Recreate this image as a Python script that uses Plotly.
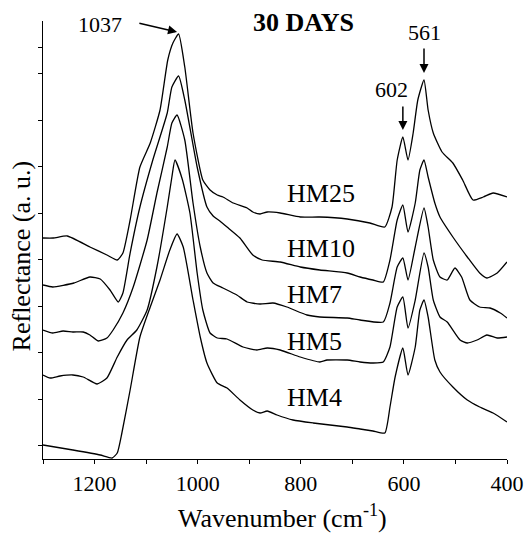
import plotly.graph_objects as go

# ---- data (wavenumber in cm^-1, reflectance in arbitrary units) ----
hm25_wn = [1300, 1280, 1253, 1209, 1176, 1156, 1145, 1131, 1112, 1092, 1073, 1058, 1048, 1037, 1025, 1009, 990, 976, 962, 951, 931, 904, 893, 879, 865, 840, 801, 763, 710, 666, 637, 623, 613, 602, 592, 582, 573, 561, 553, 543, 526, 505, 486, 466, 446, 427, 400]
hm25_r = [221, 221, 223, 212, 204, 199, 206, 239, 292, 316, 349, 399, 416, 425, 392, 326, 279, 269, 264, 262, 256, 251, 247, 245, 247, 246, 242, 242, 240, 236, 232, 252, 299, 322, 299, 326, 359, 379, 349, 326, 307, 296, 279, 259, 262, 266, 262]

hm10_wn = [1300, 1281, 1240, 1209, 1189, 1170, 1154, 1145, 1131, 1112, 1087, 1059, 1050, 1037, 1025, 1001, 982, 970, 957, 943, 918, 893, 875, 840, 801, 763, 710, 685, 660, 640, 627, 613, 602, 592, 578, 569, 561, 553, 540, 530, 505, 477, 453, 439, 419, 400]
hm10_r = [174, 172, 176, 182, 180, 169, 157, 166, 206, 252, 299, 346, 372, 383, 359, 292, 252, 243, 238, 232, 221, 204, 199, 197, 192, 189, 186, 182, 179, 177, 199, 239, 254, 227, 256, 289, 299, 282, 256, 242, 222, 202, 186, 181, 186, 197]

hm7_wn = [1300, 1281, 1261, 1242, 1222, 1209, 1193, 1176, 1164, 1145, 1125, 1098, 1079, 1059, 1050, 1040, 1025, 1009, 995, 982, 970, 951, 924, 904, 879, 854, 827, 788, 763, 710, 685, 640, 627, 613, 602, 592, 578, 561, 553, 543, 530, 516, 501, 488, 472, 453, 433, 413, 400]
hm7_r = [129, 126, 128, 127, 127, 124, 118, 121, 129, 146, 172, 219, 266, 312, 336, 344, 319, 256, 212, 186, 176, 171, 164, 157, 155, 156, 152, 144, 142, 141, 139, 137, 156, 192, 201, 179, 212, 251, 232, 199, 182, 179, 191, 182, 159, 152, 151, 146, 141]

hm5_wn = [1300, 1286, 1267, 1242, 1222, 1195, 1176, 1156, 1137, 1118, 1098, 1079, 1059, 1050, 1044, 1030, 1015, 1001, 990, 976, 962, 943, 912, 885, 865, 840, 801, 763, 749, 710, 685, 660, 640, 627, 613, 602, 592, 578, 561, 553, 543, 530, 516, 491, 477, 458, 439, 419, 400]
hm5_r = [84, 81, 83, 84, 82, 75, 81, 102, 119, 129, 149, 192, 252, 282, 299, 280, 246, 186, 149, 126, 121, 120, 112, 109, 111, 109, 102, 97, 99, 99, 97, 96, 97, 112, 152, 162, 131, 159, 206, 192, 159, 142, 137, 119, 116, 119, 124, 121, 122]

hm4_wn = [1300, 1242, 1189, 1166, 1156, 1147, 1131, 1112, 1092, 1073, 1054, 1040, 1028, 1009, 995, 982, 962, 943, 918, 893, 879, 865, 846, 815, 776, 710, 685, 660, 637, 627, 617, 602, 592, 578, 569, 561, 553, 540, 530, 505, 477, 453, 427, 400]
hm4_r = [14, 9, 4, 1, 6, 26, 69, 122, 152, 179, 209, 225, 212, 159, 122, 96, 76, 71, 59, 49, 46, 48, 44, 39, 36, 32, 30, 28, 26, 52, 82, 111, 84, 112, 149, 159, 142, 99, 87, 72, 59, 52, 46, 37]

series_names = ["HM25", "HM10", "HM7", "HM5", "HM4"]
label_y = [266, 211, 165, 118, 62]

x_tickvals = [1300, 1200, 1100, 1000, 900, 800, 700, 600, 500, 400]
x_ticktext = [" ", "1200", " ", "1000", " ", "800", " ", "600", " ", "400"]
y_tickvals = [14, 60, 107, 153, 200, 246, 293, 339, 386, 412]

FONT = "Liberation Serif, Times New Roman, serif"

fig = go.Figure()
for wn, r, name in [(hm25_wn, hm25_r, "HM25"), (hm10_wn, hm10_r, "HM10"),
                    (hm7_wn, hm7_r, "HM7"), (hm5_wn, hm5_r, "HM5"),
                    (hm4_wn, hm4_r, "HM4")]:
    fig.add_trace(go.Scatter(x=wn, y=r, mode="lines", name=name,
                             line=dict(color="black", width=1.3, shape="spline", smoothing=0.5),
                             showlegend=False, hoverinfo="x+y+name"))

annotations = []
for name, ly in zip(series_names, label_y):
    annotations.append(dict(x=830, y=ly, xref="x", yref="y", text=name, showarrow=False,
                            xanchor="left", yanchor="middle", font=dict(family=FONT, size=26, color="black")))

# peak markers
peak25 = max(hm25_r)
r561 = hm25_r[hm25_wn.index(561)]
r602 = hm25_r[hm25_wn.index(602)]
annotations += [
    dict(x=1040, y=peak25 + 2, ax=1116, ay=436, xref="x", yref="y", axref="x", ayref="y",
         text="", showarrow=True, arrowhead=2, arrowsize=1.2, arrowwidth=1.5, arrowcolor="black"),
    dict(x=1189, y=435, xref="x", yref="y", text="1037", showarrow=False,
         font=dict(family=FONT, size=22, color="black")),
    dict(x=561, y=r561 + 7, ax=561, ay=412, xref="x", yref="y", axref="x", ayref="y",
         text="", showarrow=True, arrowhead=2, arrowsize=1.2, arrowwidth=1.5, arrowcolor="black"),
    dict(x=561, y=427, xref="x", yref="y", text="561", showarrow=False,
         font=dict(family=FONT, size=22, color="black")),
    dict(x=602, y=r602 + 7, ax=602, ay=354, xref="x", yref="y", axref="x", ayref="y",
         text="", showarrow=True, arrowhead=2, arrowsize=1.2, arrowwidth=1.5, arrowcolor="black"),
    dict(x=624, y=370, xref="x", yref="y", text="602", showarrow=False,
         font=dict(family=FONT, size=22, color="black")),
    dict(x=794, y=437, xref="x", yref="y", text="<b>30 DAYS</b>", showarrow=False,
         font=dict(family=FONT, size=26, color="black")),
    dict(x=0.517, y=-0.131, xref="paper", yref="paper", text="Wavenumber (cm<sup>-1</sup>)",
         showarrow=False, xanchor="center", yanchor="middle", font=dict(family=FONT, size=26, color="black")),
    dict(x=-0.047, y=0.463, xref="paper", yref="paper", text="Reflectance (a. u.)", textangle=-90,
         showarrow=False, xanchor="center", yanchor="middle", font=dict(family=FONT, size=26, color="black")),
]

fig.update_layout(
    width=527, height=533,
    margin=dict(l=43, r=20, t=21, b=74, autoexpand=False),
    paper_bgcolor="white", plot_bgcolor="white",
    font=dict(family=FONT, size=22, color="black"),
    annotations=annotations,
    xaxis=dict(range=[1300, 400], tickvals=x_tickvals, ticktext=x_ticktext, automargin=False,
               showline=True, linecolor="black", linewidth=1.3, ticks="outside", ticklen=4,
               tickwidth=1.3, tickcolor="black", showgrid=False, zeroline=False,
               tickfont=dict(family=FONT, size=22, color="black")),
    yaxis=dict(range=[0, 438], tickvals=y_tickvals, showticklabels=False, automargin=False,
               showline=True, linecolor="black", linewidth=1.3, ticks="outside", ticklen=4,
               tickwidth=1.3, tickcolor="black", showgrid=False, zeroline=False),
)

fig.write_html("out.html")
